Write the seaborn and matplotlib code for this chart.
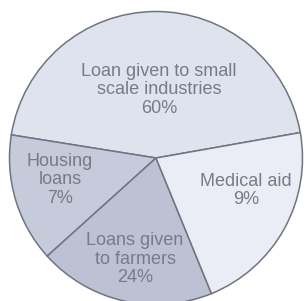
import matplotlib
matplotlib.use("Agg")
import matplotlib.pyplot as plt
import seaborn as sns

categories = ["Loan given to small\nscale industries", "Housing\nloans",
              "Loans given\nto farmers", "Medical aid"]
percent_labels = [60, 7, 24, 9]
drawn_shares = [44.7, 14.2, 19.5, 21.6]

colors = ["#dee3ee", "#c6cbdb", "#bcc2d4", "#eaedf5"]
label_pos = [(0.02, 0.465), (-0.655, -0.15), (-0.143, -0.69), (0.614, -0.222)]

sns.set_theme(style="white")
plt.rcParams['font.family'] = ['Liberation Sans', 'DejaVu Sans']

fig = plt.figure(figsize=(3.05, 3.01), dpi=100)
cx, cy, r = 156, 158, 146.5
W, H = 305, 301
ax = fig.add_axes([(cx - r) / W, (H - cy - r) / H, 2 * r / W, 2 * r / H])

ax.pie(drawn_shares, colors=colors, startangle=10, counterclock=True,
       wedgeprops=dict(edgecolor="#6f7480", linewidth=1.1))
ax.set_xlim(-1, 1)
ax.set_ylim(-1, 1)
ax.set_aspect("equal")
ax.axis("off")

for cat, pct, (x, y) in zip(categories, percent_labels, label_pos):
    ax.text(x, y, f"{cat}\n{pct}%", ha="center", va="center", fontsize=13,
            color="#767b87", linespacing=1.1)

fig.savefig("out.png", dpi=100)
